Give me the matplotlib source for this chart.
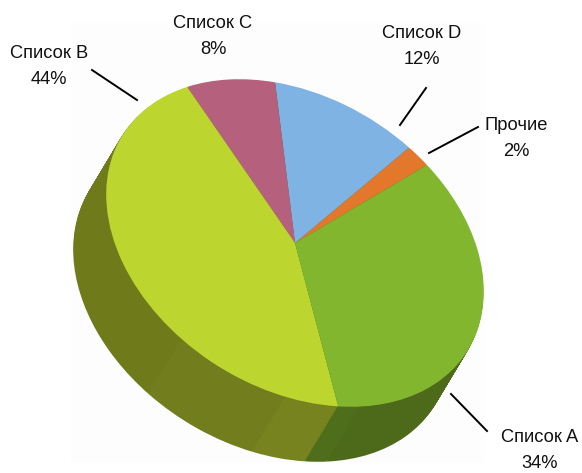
import matplotlib
matplotlib.use('Agg')
import matplotlib.pyplot as plt
from matplotlib.patches import Rectangle
from matplotlib.transforms import Affine2D

plt.rcParams['font.family'] = ['Liberation Sans', 'DejaVu Sans']

# Data, counter-clockwise from the Прочие / Список A boundary
names  = ['Прочие', 'Список D', 'Список C', 'Список B', 'Список A']
shares = [2, 12, 8, 44, 34]
top_colors = ['#e3772b', '#7fb3e4', '#b5607c', '#bcd62f', '#82b62f']

# Side wall shades, the original has a few faint facets
side_shares = [2, 12, 8, 30, 9.5, 4.5, 2, 32]
side_colors = ['#4c6a19', '#4c6a19', '#727a1c', '#6f7a1b', '#727d1d',
               '#76831e', '#4f6e1c', '#4c6a19']

# label centre x, y of first line, y of second line
label_pos = {'Список B': (49, 53, 80),
             'Список C': (213, 24, 50),
             'Список D': (422, 34, 60),
             'Прочие':   (516, 125, 151),
             'Список A': (540, 437, 463)}
leaders = [((92, 70), (137, 100)),
           ((426, 88), (400, 125)),
           ((478, 127), (429, 153)),
           ((451, 394), (487, 431))]

fig = plt.figure(figsize=(5.82, 4.73), dpi=100)
ax = fig.add_axes([0, 0, 1, 1])

# Tilted disc: unit circle mapped to the skewed ellipse
def disc(dx=0, dy=0):
    return Affine2D.from_values(132, -78, -135, -144, 295 + dx, 243 + dy) + ax.transData

# Side wall: the same pie stacked downwards
for i in range(56, 0, -1):
    wedges, _ = ax.pie(side_shares, colors=side_colors, startangle=0, radius=1,
                       wedgeprops={'linewidth': 0})
    for w in wedges:
        w.set_transform(disc(-33 * i / 56, 55 * i / 56))
        w.set_zorder(2)

wedges, _ = ax.pie(shares, colors=top_colors, startangle=0, radius=1,
                   wedgeprops={'linewidth': 0})
for w in wedges:
    w.set_transform(disc())
    w.set_zorder(3)

ax.add_patch(Rectangle((71, 23), 414, 440, color='#fdfdfd', linewidth=0, zorder=1))

for (x0, y0), (x1, y1) in leaders:
    ax.plot([x0, x1], [y0, y1], color='black', linewidth=1.4, zorder=4)

for name, share in zip(names, shares):
    x, y1, y2 = label_pos[name]
    ax.text(x, y1, name, ha='center', va='center', fontsize=13.2, color='#111111', zorder=5)
    ax.text(x, y2, f'{share}%', ha='center', va='center', fontsize=13.2, color='#111111', zorder=5)

ax.set_aspect('auto')
ax.set_xlim(0, 582)
ax.set_ylim(473, 0)
ax.axis('off')

fig.savefig('out.png', dpi=100)
